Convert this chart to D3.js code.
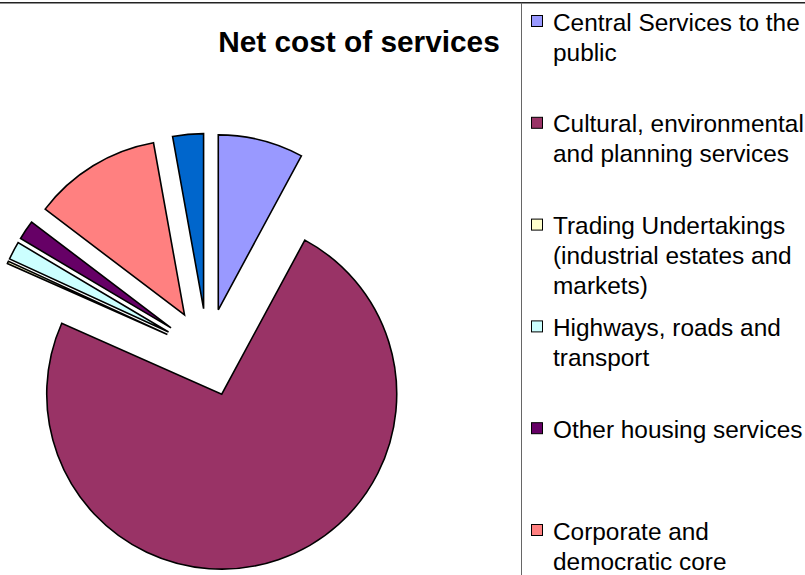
<!DOCTYPE html>
<html>
<head>
<meta charset="utf-8">
<script src="https://cdn.jsdelivr.net/npm/d3@7"></script>
<style>
  body { margin: 0; background: #fff; }
  svg { display: block; font-family: "Liberation Sans", Arial, sans-serif; }
</style>
</head>
<body>
<div id="chart"></div>
<script>
// categories in pie order (clockwise from 12 o'clock)
const categories = [
  'Central Services to the public',
  'Cultural, environmental and planning services',
  'Trading Undertakings (industrial estates and markets)',
  'Highways, roads and transport',
  'Other housing services',
  'Corporate and democratic core',
  'Non distributed costs'
];
// share of net cost, %
const shares = [7.86, 73.6, 0.22, 1.67, 1.8, 11.8, 2.83];
const colors = ['#9999FF', '#993366', '#FFFFCC', '#CCFFFF', '#660066', '#FF8080', '#0066CC'];

const width = 805,
  height = 575,
  cx = 207.5,
  cy = 352.5,
  radius = 175,
  explode = 44;

const data = categories.map((c, i) => ({name: c, value: shares[i], color: colors[i]}));

const svg = d3.select('#chart').append('svg')
  .attr('width', width)
  .attr('height', height);

svg.append('rect')
  .attr('width', width)
  .attr('height', height)
  .attr('fill', '#fff');

const pie = d3.pie()
  .sort(null)
  .value(d => d.value);

const arc = d3.arc()
  .outerRadius(radius)
  .innerRadius(0);

const g = svg.append('g')
  .attr('transform', 'translate(' + cx + ',' + cy + ')');

g.selectAll('.slice')
  .data(pie(data))
  .enter().append('path')
  .attr('class', 'slice')
  .attr('d', arc)
  .attr('transform', d => {
    const mid = (d.startAngle + d.endAngle) / 2;
    return 'translate(' + (explode * Math.sin(mid)) + ',' + (-explode * Math.cos(mid)) + ')';
  })
  .style('fill', d => d.data.color)
  .style('stroke', '#000')
  .style('stroke-width', 1.6)
  .style('stroke-linejoin', 'miter');

// title
svg.append('text')
  .attr('x', 359)
  .attr('y', 52)
  .attr('text-anchor', 'middle')
  .style('font-size', '29.8px')
  .style('font-weight', 'bold')
  .text('Net cost of services');

// frame lines
svg.append('line')
  .attr('x1', 0).attr('x2', width)
  .attr('y1', 2.75).attr('y2', 2.75)
  .style('stroke', '#222')
  .style('stroke-width', 1.5);

svg.append('line')
  .attr('x1', 521.5).attr('x2', 521.5)
  .attr('y1', 2.75).attr('y2', height)
  .style('stroke', '#666')
  .style('stroke-width', 1);

// legend
const legend = svg.append('g');
const step = 101.8,
  firstBase = 30.5,
  lineH = 30,
  maxW = 256;

data.forEach((d, i) => {
  const base = firstBase + i * step;
  legend.append('rect')
    .attr('x', 531.5)
    .attr('y', base - 15)
    .attr('width', 11)
    .attr('height', 11)
    .style('fill', d.color)
    .style('stroke', '#000')
    .style('stroke-width', 1);

  const t = legend.append('text')
    .attr('x', 553)
    .attr('y', base)
    .style('font-size', '24.4px');

  // wrap words into lines
  const words = d.name.split(' ');
  let line = [];
  let tspan = t.append('tspan').attr('x', 553).attr('y', base);
  let n = 0;
  words.forEach(w => {
    line.push(w);
    tspan.text(line.join(' '));
    if (tspan.node().getComputedTextLength() > maxW && line.length > 1) {
      line.pop();
      tspan.text(line.join(' '));
      line = [w];
      n++;
      tspan = t.append('tspan').attr('x', 553).attr('y', base + n * lineH).text(w);
    }
  });
});
</script>
</body>
</html>
